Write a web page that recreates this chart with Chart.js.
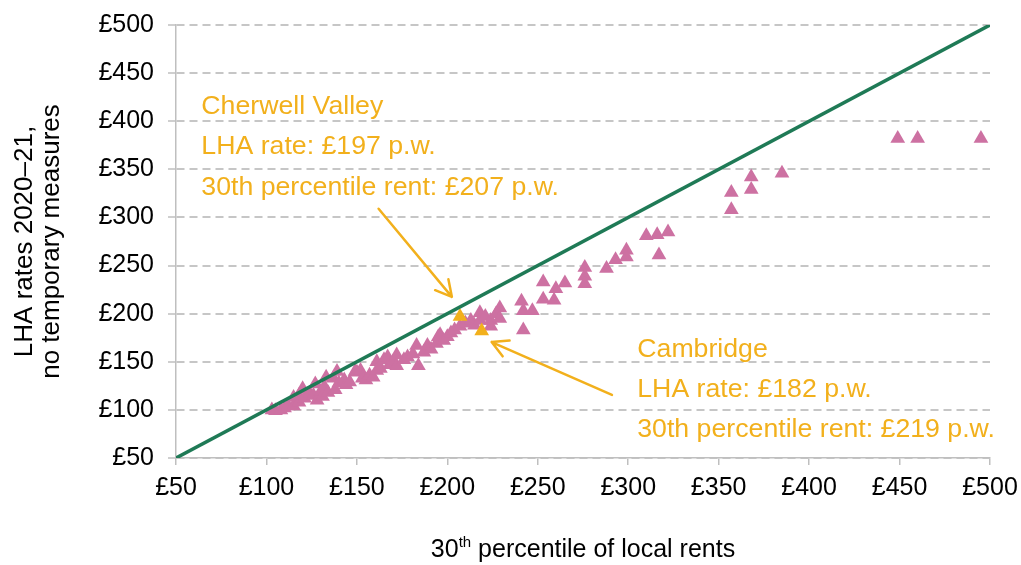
<!DOCTYPE html>
<html>
<head>
<meta charset="utf-8">
<script src="https://cdn.jsdelivr.net/npm/chart.js@4.4.0/dist/chart.umd.min.js"></script>
<style>
  html, body { margin: 0; padding: 0; background: #ffffff; }
  #wrap { width: 1021px; height: 565px; }
</style>
</head>
<body>
<div id="wrap"><canvas id="lha"></canvas></div>
<script>
// 30th percentile of local rents (x) vs LHA rate (y), £ per week
const rentX = [103, 105, 108, 110, 112, 115, 115, 118, 118, 120, 121, 124, 126, 127, 128, 130, 131, 132, 133, 134,
  137, 138, 139, 140, 143, 144, 146, 149, 150, 152, 153, 155, 157, 159, 161, 161, 163, 165, 167, 168,
  170, 172, 172, 176, 178, 181, 183, 184, 187, 189, 191, 194, 195, 196, 198, 200, 202, 204, 207, 210,
  213, 215, 218, 218, 221, 224, 224, 227, 229, 229, 241, 242, 242, 247, 253, 253, 259, 260, 265, 276,
  276, 276, 288, 293, 299, 299, 310, 316, 317, 322, 357, 357, 368, 368, 385, 449, 460, 495];
const lhaY = [100, 99, 100, 102, 104, 104, 113, 108, 115, 122, 112, 117, 115, 127, 110, 119, 114, 124, 134, 118,
  133, 121, 140, 128, 131, 126, 129, 140, 139, 141, 133, 131, 136, 134, 150, 141, 143, 152, 155, 147,
  150, 157, 146, 152, 155, 158, 167, 146, 160, 167, 163, 169, 176, 178, 172, 176, 180, 183, 187, 190,
  193, 188, 201, 193, 197, 193, 187, 200, 206, 195, 213, 203, 183, 203, 233, 215, 214, 226, 232, 248,
  239, 231, 247, 256, 266, 259, 281, 282, 261, 285, 326, 308, 342, 329, 346, 382, 382, 382];

// highlighted areas
const highlightNames = ['Cherwell Valley', 'Cambridge'];
const highlightX = [207, 219];
const highlightY = [197, 182];

// 45 degree reference line
const equalLine = [50, 500];

const axisTicks = [50, 100, 150, 200, 250, 300, 350, 400, 450, 500];

// annotation text + arrows, in data units
const notes = [
  { x: 64, y: [415, 374, 331], lines: ['Cherwell Valley', 'LHA rate: £197 p.w.', '30th percentile rent: £207 p.w.'],
    arrowFrom: [162, 309], arrowTo: [202.5, 217.5] },
  { x: 305, y: [163, 121.5, 80], lines: ['Cambridge', 'LHA rate: £182 p.w.', '30th percentile rent: £219 p.w.'],
    arrowFrom: [291, 115.5], arrowTo: [224.5, 170.5] }
];

const PINK = '#CD71A2';
const GOLD = '#F2B01C';
const GREEN = '#1F7A56';
const GREY = '#BFBFBF';
const FONT = '"Liberation Sans", Arial, sans-serif';

const mainPoints = rentX.map((x, i) => ({ x: x, y: lhaY[i] }));
const hiPoints = highlightX.map((x, i) => ({ x: x, y: highlightY[i] }));
const linePoints = equalLine.map(v => ({ x: v, y: v }));

function drawArrow(ctx, x1, y1, x2, y2) {
  const ang = Math.atan2(y2 - y1, x2 - x1);
  const head = 18;
  ctx.beginPath();
  ctx.moveTo(x1, y1);
  ctx.lineTo(x2, y2);
  ctx.moveTo(x2 - head * Math.cos(ang - 0.5), y2 - head * Math.sin(ang - 0.5));
  ctx.lineTo(x2, y2);
  ctx.lineTo(x2 - head * Math.cos(ang + 0.5), y2 - head * Math.sin(ang + 0.5));
  ctx.stroke();
}

const annotations = {
  id: 'annotations',
  afterDatasetsDraw(chart) {
    const { ctx, scales: { x, y }, chartArea } = chart;
    ctx.save();
    ctx.fillStyle = GOLD;
    ctx.strokeStyle = GOLD;
    ctx.lineWidth = 2.5;
    ctx.lineCap = 'round';
    ctx.lineJoin = 'round';
    ctx.font = '26.7px ' + FONT;
    ctx.textAlign = 'left';
    ctx.textBaseline = 'middle';
    notes.forEach(n => {
      n.lines.forEach((t, i) => ctx.fillText(t, x.getPixelForValue(n.x), y.getPixelForValue(n.y[i])));
      drawArrow(ctx, x.getPixelForValue(n.arrowFrom[0]), y.getPixelForValue(n.arrowFrom[1]),
        x.getPixelForValue(n.arrowTo[0]), y.getPixelForValue(n.arrowTo[1]));
    });

    // axis titles
    ctx.fillStyle = '#000000';
    ctx.textBaseline = 'alphabetic';
    const cx = (chartArea.left + chartArea.right) / 2;
    const big = '25px ' + FONT, small = '15px ' + FONT;
    ctx.font = big;
    const w1 = ctx.measureText('30').width;
    const w3 = ctx.measureText(' percentile of local rents').width;
    ctx.font = small;
    const w2 = ctx.measureText('th').width;
    let sx = cx - (w1 + w2 + w3) / 2;
    const by = 557;
    ctx.font = big;
    ctx.fillText('30', sx, by);
    ctx.font = small;
    ctx.fillText('th', sx + w1, by - 10);
    ctx.font = big;
    ctx.fillText(' percentile of local rents', sx + w1 + w2, by);

    ctx.translate(0, (chartArea.top + chartArea.bottom) / 2);
    ctx.rotate(-Math.PI / 2);
    ctx.textAlign = 'center';
    ctx.textBaseline = 'middle';
    ctx.font = '26px ' + FONT;
    ctx.fillText('LHA rates 2020\u201321,', 0, 25);
    ctx.fillText('no temporary measures', 0, 52);
    ctx.restore();
  }
};

const tickFont = { family: FONT, size: 25 };

new Chart(document.getElementById('lha'), {
  type: 'scatter',
  data: {
    datasets: [
      {
        type: 'line',
        label: '45 degree line',
        data: linePoints,
        borderColor: GREEN,
        borderWidth: 3.5,
        pointRadius: 0,
        order: 0
      },
      {
        label: 'Highlighted',
        data: hiPoints,
        pointStyle: 'triangle',
        pointRadius: 8.5,
        backgroundColor: GOLD,
        borderColor: GOLD,
        borderWidth: 0,
        order: 1
      },
      {
        label: 'Broad rental market areas',
        data: mainPoints,
        pointStyle: 'triangle',
        pointRadius: 8.5,
        backgroundColor: PINK,
        borderColor: PINK,
        borderWidth: 0,
        order: 2
      }
    ]
  },
  options: {
    responsive: true,
    maintainAspectRatio: false,
    animation: false,
    layout: { padding: { top: 25, right: 31, bottom: 0, left: 0 } },
    plugins: { legend: { display: false }, tooltip: { enabled: false } },
    scales: {
      x: {
        type: 'linear',
        min: 50,
        max: 500,
        afterFit: s => { s.height = 107; s.paddingLeft = 0; s.paddingRight = 0; },
        afterBuildTicks: s => { s.ticks = axisTicks.map(v => ({ value: v })); },
        ticks: { font: tickFont, color: '#000', padding: 8, maxRotation: 0, autoSkip: false,
          callback: v => '£' + v },
        grid: { drawOnChartArea: false, drawTicks: true, tickLength: 7, color: GREY, lineWidth: 1.5 },
        border: { color: GREY, width: 1.5 }
      },
      y: {
        type: 'linear',
        min: 50,
        max: 500,
        afterFit: s => { s.width = 176; s.paddingTop = 0; s.paddingBottom = 0; },
        afterBuildTicks: s => { s.ticks = axisTicks.map(v => ({ value: v })); },
        ticks: { font: tickFont, color: '#000', padding: 14, callback: v => '£' + v },
        grid: { color: '#C6C6C6', lineWidth: 2, tickLength: 8, tickColor: GREY, tickWidth: 1.5, tickBorderDash: [] },
        border: { color: GREY, width: 1.5, dash: [8, 5] }
      }
    }
  },
  plugins: [annotations]
});
</script>
</body>
</html>
